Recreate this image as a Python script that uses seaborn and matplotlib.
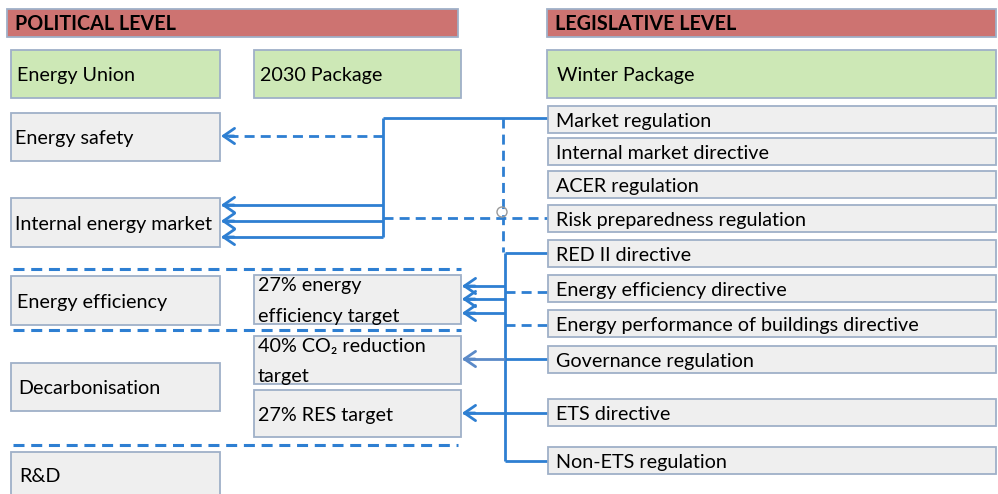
import matplotlib
matplotlib.use("Agg")
import matplotlib.pyplot as plt
import seaborn as sns
from matplotlib.patches import Rectangle, Circle

sns.set_theme(style="white")
plt.rcParams['font.family'] = ['Lato', 'DejaVu Sans']

# --- content ---
header_labels = ["POLITICAL LEVEL", "LEGISLATIVE LEVEL"]
package_labels = ["Energy Union", "2030 Package", "Winter Package"]
left_labels = ["Energy safety", "Internal energy market", "Energy efficiency",
               "Decarbonisation", "R&D"]
target_labels = ["27% energy\nefficiency target", "40% CO\u2082 reduction\ntarget",
                 "27% RES target"]
right_labels = ["Market regulation", "Internal market directive", "ACER regulation",
                "Risk preparedness regulation", "RED II directive",
                "Energy efficiency directive", "Energy performance of buildings directive",
                "Governance regulation", "ETS directive", "Non-ETS regulation"]

# --- layout (pixel coordinates) ---
header_x = [(7, 458), (547, 996)]
package_x = [(11, 220), (254, 461), (547, 996)]
left_y = [(113, 161), (198, 247), (276, 325), (363, 411), (452, 497)]
left_dx = [4, 4, 6, 7, 8]
target_y = [(275, 324), (336, 384), (390, 437)]
right_top = [106, 138, 171, 205, 240, 275, 310, 346, 399, 447]
right_h = 27
separator_y = [269, 330, 445]

red = "#cd7371"
green = "#cde8b6"
grey = "#efefef"
edge = "#9fb0c8"
blue = "#2e7fd2"
blue2 = "#5b8ac8"

fig = plt.figure(figsize=(9.98, 4.94), dpi=100)
ax = fig.add_axes([0, 0, 1, 1])
ax.set_xlim(0, 998)
ax.set_ylim(494, 0)
ax.axis("off")

FS = 14.2


def box(x0, x1, y0, y1, fc, label, dx=6, bold=False, ls=1.25):
    ax.add_patch(Rectangle((x0, y0), x1 - x0, y1 - y0, facecolor=fc,
                           edgecolor=edge, lw=1.3, zorder=2))
    ax.text(x0 + dx, (y0 + y1) / 2 + 1.5, label, ha="left", va="center", fontsize=FS,
            color="black", fontweight="bold" if bold else "normal",
            linespacing=ls, zorder=3)


# headers
for (x0, x1), lab in zip(header_x, header_labels):
    box(x0, x1, 9, 37, red, lab, dx=8, bold=True)

# packages
for (x0, x1), lab in zip(package_x, package_labels):
    box(x0, x1, 50, 98, green, lab, dx=6 if x0 < 500 else 10)

# left topics
for (y0, y1), lab, dx in zip(left_y, left_labels, left_dx):
    box(11, 220, y0, y1, grey, lab, dx=dx)

# targets
for (y0, y1), lab in zip(target_y, target_labels):
    box(254, 461, y0, y1, grey, lab, dx=4, ls=1.95)

# legislative items
for top, lab in zip(right_top, right_labels):
    box(548, 996, top, top + right_h, grey, lab, dx=8)

# dashed separators
for y, x1 in zip(separator_y, [461, 461, 458]):
    ax.plot([13, x1], [y, y], color=blue, lw=2.2, ls=(0, (3.6, 2.2)), zorder=1)


def line(xs, ys, dashed=False, c=blue):
    ax.plot(xs, ys, color=c, lw=2.0, ls=(0, (3.6, 2.2)) if dashed else "-",
            solid_capstyle="butt", zorder=1)


def arrow(x_from, x_to, y, dashed=False, c=blue):
    line([x_from, x_to + 2], [y, y], dashed, c)
    ax.annotate("", xy=(x_to + 1, y), xytext=(x_to + 14, y),
                arrowprops=dict(arrowstyle="->,head_length=0.8,head_width=0.55",
                                color=c, lw=2.0, shrinkA=0, shrinkB=0,
                                mutation_scale=10), zorder=1)


# market block
line([383, 548], [118, 118])
line([383, 383], [118, 237])
arrow(383, 220, 136, dashed=True)
for y in [205, 221, 237]:
    arrow(383, 220, y)
line([503, 503], [118, 252], dashed=True)
line([383, 548], [218, 218], dashed=True)
ax.add_patch(Circle((502, 212), 5, facecolor="none", edgecolor="#9a9a9a", lw=1, zorder=1))

# climate / efficiency block
line([505, 505], [253, 461])
for y in [253, 359, 413, 461]:
    line([505, 548], [y, y])
for y in [292, 325]:
    line([505, 548], [y, y], dashed=True)
for y in [286, 299, 313]:
    arrow(505, 461, y)
arrow(505, 461, 359, c=blue2)
arrow(505, 461, 413)

fig.savefig("out.png", dpi=100)
